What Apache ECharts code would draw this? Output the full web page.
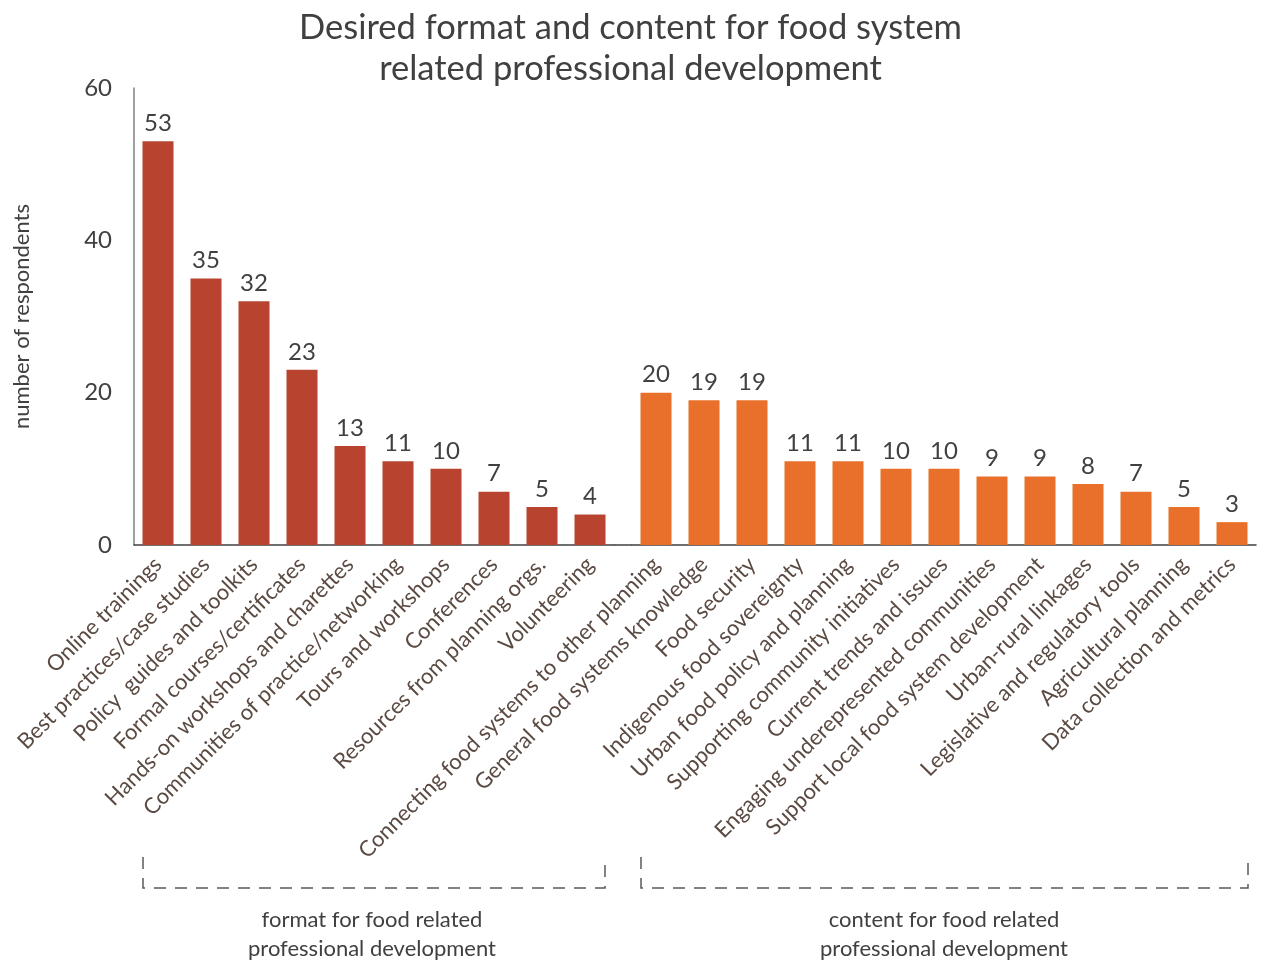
<!DOCTYPE html>
<html>
<head>
<meta charset="utf-8">
<title>Desired format and content for food system related professional development</title>
<script src="https://cdn.jsdelivr.net/npm/echarts@6/dist/echarts.min.js"></script>
<style>
  html, body { margin: 0; padding: 0; background: #fff; }
  #chart { width: 1261px; height: 964px; }
</style>
</head>
<body>
<div id="chart"></div>
<script>
// Survey answers: format of professional development
const formatCategories = [
  'Online trainings',
  'Best practices/case studies',
  'Policy  guides and toolkits',
  'Formal courses/certificates',
  'Hands-on workshops and charettes',
  'Communities of practice/networking',
  'Tours and workshops',
  'Conferences',
  'Resources from planning orgs.',
  'Volunteering'
];
const formatValues = [53, 35, 32, 23, 13, 11, 10, 7, 5, 4];

// Survey answers: content of professional development
const contentCategories = [
  'Connecting food systems to other planning',
  'General food systems knowledge',
  'Food security',
  'Indigenous food sovereignty',
  'Urban food policy and planning',
  'Supporting community initiatives',
  'Current trends and issues',
  'Engaging underepresented communities',
  'Support local food system development',
  'Urban-rural linkages',
  'Legislative and regulatory tools',
  'Agricultural planning',
  'Data collection and metrics'
];
const contentValues = [20, 19, 19, 11, 11, 10, 10, 9, 9, 8, 7, 5, 3];

const yTicks = { min: 0, max: 60, interval: 20 };
const groupLabels = [
  'format for food related\nprofessional development',
  'content for food related\nprofessional development'
];

const FONT = 'Lato, "Open Sans", sans-serif';
const TEXT = '#404040';
const LABEL = '#5a4a42';
const RED = '#b8432f';
const ORANGE = '#e8702a';

const chart = echarts.init(document.getElementById('chart'), null, { renderer: 'canvas' });

const gridTop = 88, gridBottomY = 545;
const g1 = { left: 134, width: 480 };
const g2 = { left: 632, width: 624 };

function xAxisFor(idx, cats) {
  return {
    type: 'category',
    gridIndex: idx,
    data: cats,
    axisTick: { show: false },
    axisLine: { show: true, lineStyle: { color: '#404040', width: 1.5 } },
    axisLabel: {
      interval: 0,
      rotate: 45,
      margin: 16,
      color: LABEL,
      fontFamily: FONT,
      fontSize: 22
    }
  };
}

function yAxisFor(idx, visible) {
  return {
    type: 'value',
    gridIndex: idx,
    min: yTicks.min, max: yTicks.max, interval: yTicks.interval,
    splitLine: { show: false },
    axisTick: { show: false },
    axisLine: { show: visible, lineStyle: { color: '#7f7f7f', width: 1.5 } },
    axisLabel: {
      show: visible, color: TEXT, fontFamily: FONT, fontSize: 24, margin: 22
    },
    name: visible ? 'number of respondents' : '',
    nameLocation: 'middle',
    nameGap: 101,
    nameTextStyle: { color: TEXT, fontFamily: FONT, fontSize: 22 }
  };
}

function barSeries(idx, values, color) {
  return {
    type: 'bar',
    xAxisIndex: idx,
    yAxisIndex: idx,
    data: values,
    barWidth: 31,
    itemStyle: { color: color },
    label: {
      show: true, position: 'top', distance: 6,
      color: TEXT, fontFamily: FONT, fontSize: 24
    },
    silent: true
  };
}

const dash = { stroke: '#595959', lineWidth: 1.5, lineDash: [12, 9] };
function bracket(x1, x2) {
  return {
    type: 'polyline',
    shape: { points: [[x1, 857], [x1, 888], [x2, 888], [x2, 857]] },
    style: Object.assign({ fill: null }, dash),
    silent: true
  };
}

chart.setOption({
  backgroundColor: '#fff',
  animation: false,
  title: {
    text: 'Desired format and content for food system\nrelated professional development',
    left: 'center',
    top: 2,
    textStyle: {
      color: TEXT, fontFamily: FONT, fontSize: 34.5, fontWeight: 'normal', lineHeight: 41
    }
  },
  grid: [
    { left: g1.left, width: g1.width, top: gridTop, height: gridBottomY - gridTop },
    { left: g2.left, width: g2.width, top: gridTop, height: gridBottomY - gridTop }
  ],
  xAxis: [xAxisFor(0, formatCategories), xAxisFor(1, contentCategories)],
  yAxis: [yAxisFor(0, true), yAxisFor(1, false)],
  series: [
    barSeries(0, formatValues, RED),
    barSeries(1, contentValues, ORANGE)
  ],
  graphic: [
    // join the two category axis lines across the gap between groups
    {
      type: 'line',
      shape: { x1: g1.left + g1.width, y1: gridBottomY, x2: g2.left, y2: gridBottomY },
      style: { stroke: '#404040', lineWidth: 1.5 },
      silent: true
    },
    bracket(143, 605),
    bracket(641, 1248),
    {
      type: 'text',
      x: 372, y: 905,
      style: {
        text: groupLabels[0], fill: TEXT, font: '22px ' + FONT,
        align: 'center', lineHeight: 29
      }
    },
    {
      type: 'text',
      x: 944, y: 905,
      style: {
        text: groupLabels[1], fill: TEXT, font: '22px ' + FONT,
        align: 'center', lineHeight: 29
      }
    }
  ]
});
</script>
</body>
</html>
